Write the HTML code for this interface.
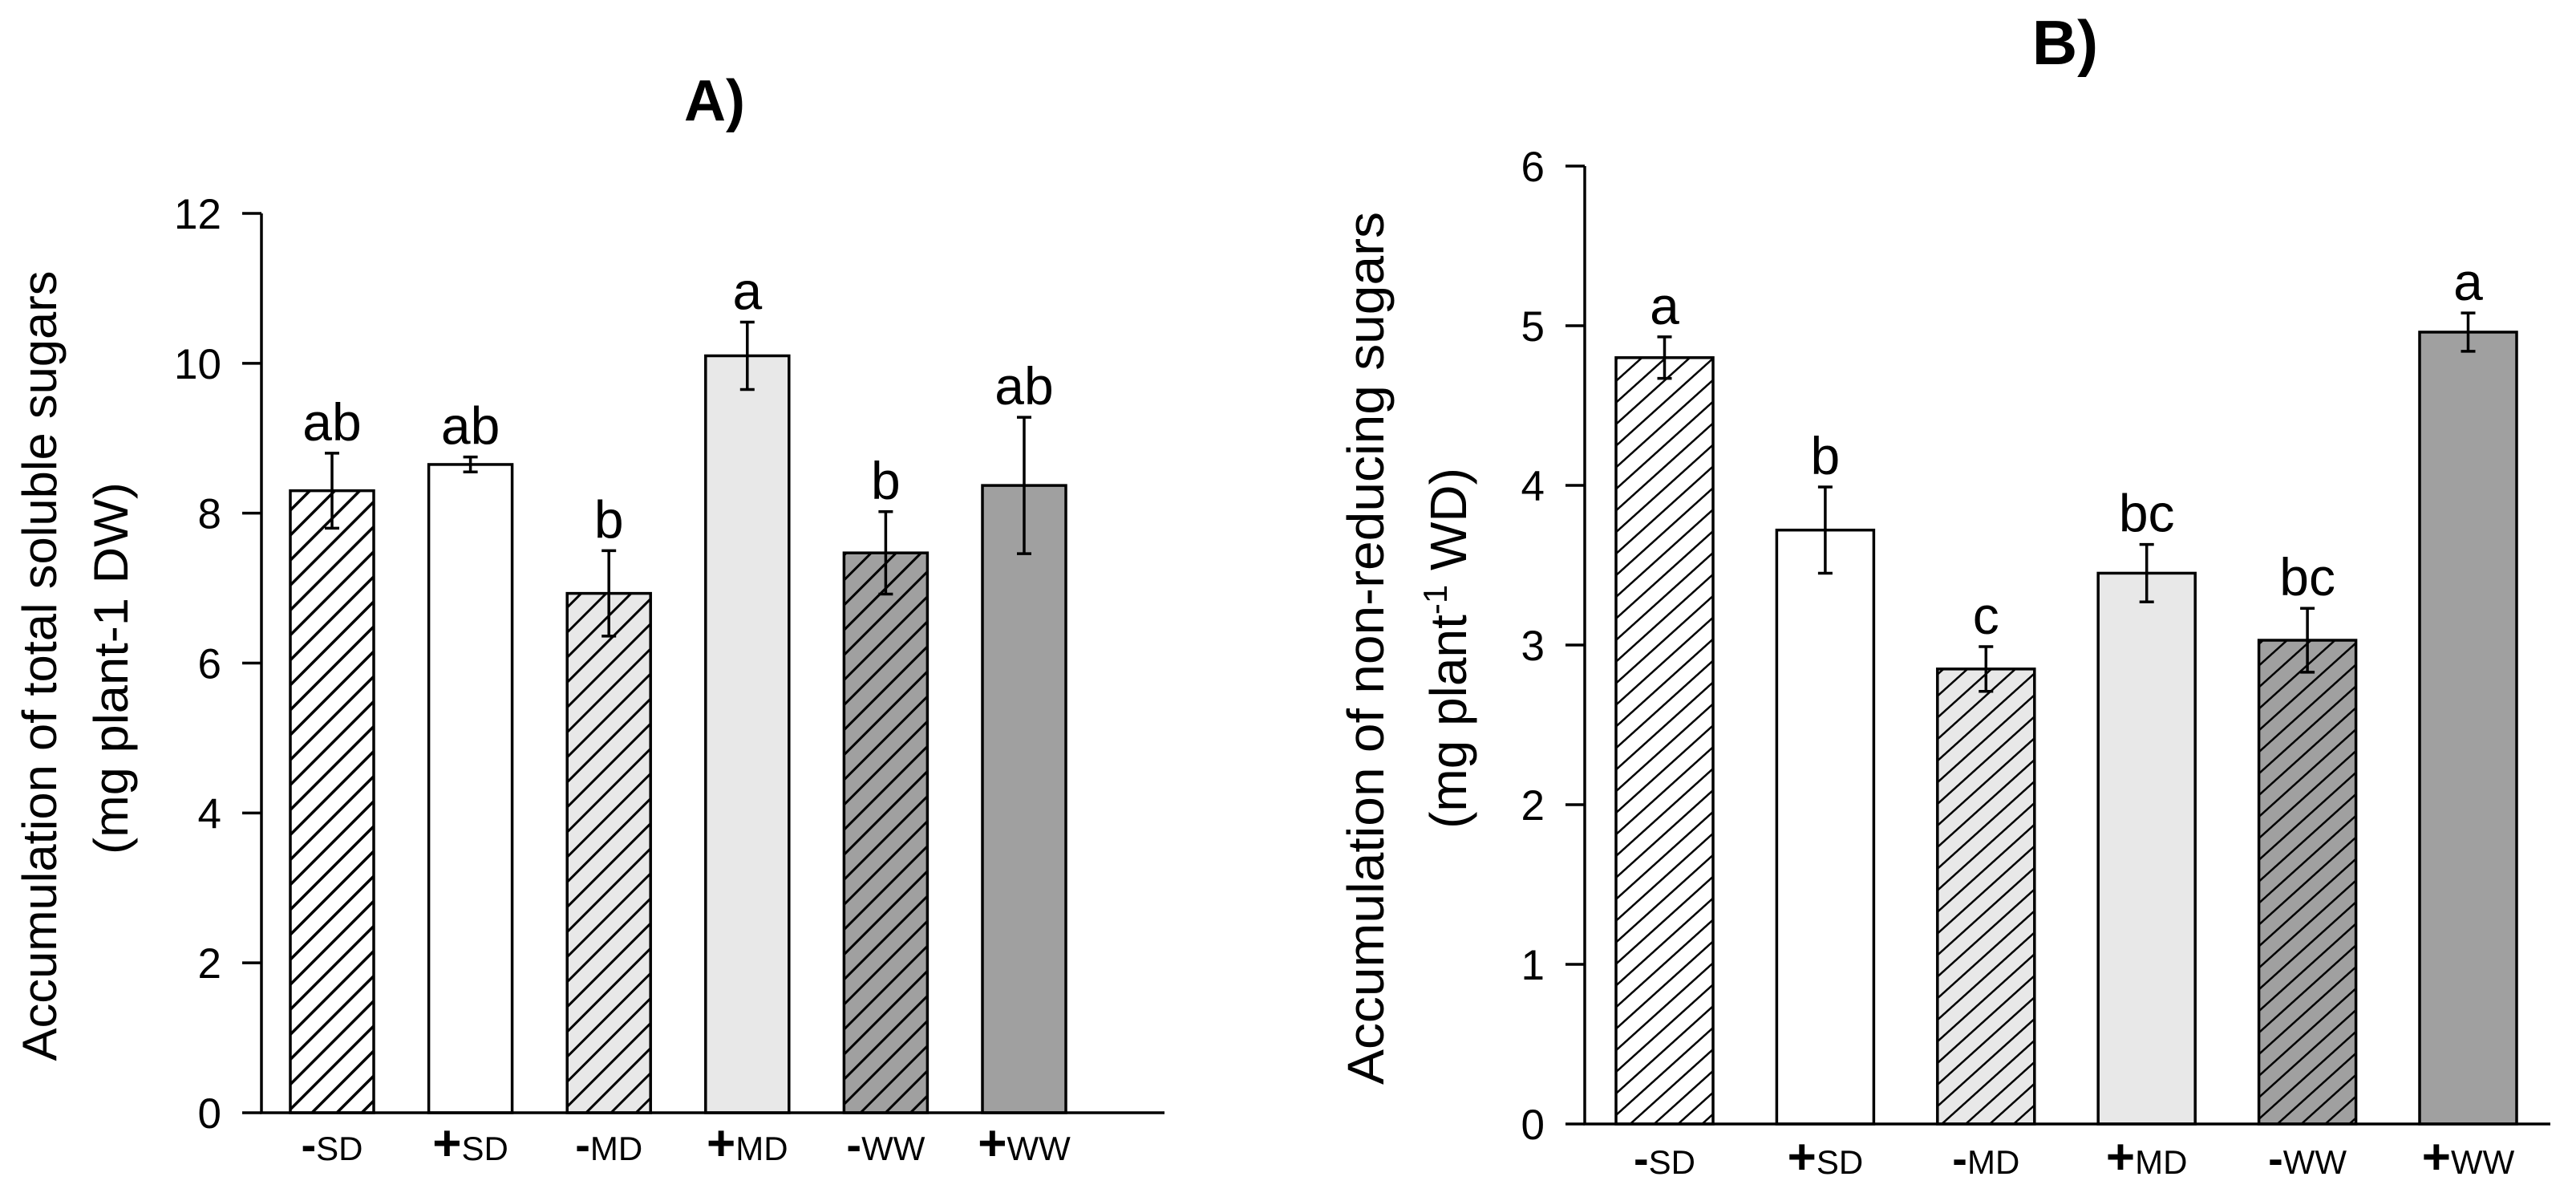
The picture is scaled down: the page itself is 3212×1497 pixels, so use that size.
<!DOCTYPE html>
<html><head><meta charset="utf-8">
<style>
html,body{margin:0;padding:0;background:#fff;}
svg{display:block;font-family:"Liberation Sans",Arial,sans-serif;}
</style></head>
<body>
<svg id="fig" width="3212" height="1497" viewBox="0 0 3212 1497" xmlns="http://www.w3.org/2000/svg">
<defs>
<pattern id="hatchW" patternUnits="userSpaceOnUse" width="22" height="22" patternTransform="rotate(45)">
<rect width="22" height="22" fill="#ffffff"/><line x1="0" y1="0" x2="0" y2="22" stroke="#000" stroke-width="7"/></pattern>
<pattern id="hatchL" patternUnits="userSpaceOnUse" width="22" height="22" patternTransform="rotate(45)">
<rect width="22" height="22" fill="#e8e8e8"/><line x1="0" y1="0" x2="0" y2="22" stroke="#000" stroke-width="6"/></pattern>
<pattern id="hatchD" patternUnits="userSpaceOnUse" width="22" height="22" patternTransform="rotate(45)">
<rect width="22" height="22" fill="#a0a0a0"/><line x1="0" y1="0" x2="0" y2="22" stroke="#000" stroke-width="6"/></pattern>
<pattern id="hatchWb" patternUnits="userSpaceOnUse" width="20" height="20" patternTransform="rotate(48)">
<rect width="20" height="20" fill="#ffffff"/><line x1="0" y1="0" x2="0" y2="20" stroke="#000" stroke-width="5"/></pattern>
<pattern id="hatchLb" patternUnits="userSpaceOnUse" width="20" height="20" patternTransform="rotate(48)">
<rect width="20" height="20" fill="#e8e8e8"/><line x1="0" y1="0" x2="0" y2="20" stroke="#000" stroke-width="5"/></pattern>
<pattern id="hatchDb" patternUnits="userSpaceOnUse" width="20" height="20" patternTransform="rotate(48)">
<rect width="20" height="20" fill="#a0a0a0"/><line x1="0" y1="0" x2="0" y2="20" stroke="#000" stroke-width="5"/></pattern>
</defs>
<g id="panelA"></g>
<g id="panelB"></g>
</svg>
<script>
const categories = ["SD","SD","MD","MD","WW","WW"];
const signs = ["-","+","-","+","-","+"];
const valuesA = [8.3, 8.65, 6.93, 10.1, 7.47, 8.37];
const errorsA = [0.5, 0.1, 0.57, 0.45, 0.55, 0.91];
const lettersA = ["ab","ab","b","a","b","ab"];
const ticksA = [0,2,4,6,8,10,12];
const valuesB = [4.8, 3.72, 2.85, 3.45, 3.03, 4.96];
const errorsB = [0.13, 0.27, 0.14, 0.18, 0.2, 0.12];
const lettersB = ["a","b","c","bc","bc","a"];
const ticksB = [0,1,2,3,4,5,6];

const NS = "http://www.w3.org/2000/svg";
function mk(tag, attrs, parent){const e=document.createElementNS(NS,tag);for(const k in attrs)e.setAttribute(k,attrs[k]);parent.appendChild(e);return e;}

function drawPanel(g, cfg){
  const yScale = v => cfg.y0 - (v - cfg.ymin)/(cfg.ymax - cfg.ymin)*(cfg.y0 - cfg.y1);
  const xLeft = i => cfg.x0 + cfg.firstOffset + i*cfg.step;
  // bars
  cfg.values.forEach((v,i)=>{
    const x = xLeft(i), y = yScale(v);
    const r = mk("rect",{x:x,y:y,width:cfg.bw,height:cfg.y0-y,fill:cfg.fills[i],stroke:"#000","stroke-width":3.5},g);
    
    
    const cx = x + cfg.bw/2;
    const top = yScale(v + cfg.errors[i]), bot = yScale(v - cfg.errors[i]);
    const eb = mk("path",{d:`M${cx} ${top}V${bot}M${cx-9} ${top}H${cx+9}M${cx-9} ${bot}H${cx+9}`,stroke:"#000","stroke-width":3.5,fill:"none"},g);
    
    
    const t = mk("text",{x:cx,y:top-16,"text-anchor":"middle","font-size":66},g);
    t.textContent = cfg.letters[i];
    
    
    const lab = mk("text",{x:cx,y:cfg.labelY,"text-anchor":"middle"},g);
    
    
    const s1 = mk("tspan",{"font-size":signs[i]=="+"?62:56,"font-weight":"bold"},lab); s1.textContent = signs[i];
    const s2 = mk("tspan",{"font-size":42},lab); s2.textContent = categories[i];
  });
  // axes
  const ax = mk("path",{d:`M${cfg.x0} ${cfg.y1}V${cfg.y0}H${cfg.xEnd}`,stroke:"#000","stroke-width":3.5,fill:"none"},g);
  
  
  cfg.ticks.forEach(tv=>{
    const y = yScale(tv);
    const tk = mk("line",{x1:cfg.x0-24,x2:cfg.x0,y1:y,y2:y,stroke:"#000","stroke-width":3.5},g);
    
    
    const tl = mk("text",{x:cfg.x0-50,y:y+19,"text-anchor":"end","font-size":53},g);
    tl.textContent = tv;
    
    
  });
}

const gA = document.getElementById("panelA");
drawPanel(gA,{x0:326,y0:1387,y1:266,ymin:0,ymax:12,xEnd:1452,firstOffset:36,step:172.6,bw:104,
  values:valuesA,errors:errorsA,letters:lettersA,ticks:ticksA,labelY:1446,
  fills:["url(#hatchW)","#ffffff","url(#hatchL)","#e8e8e8","url(#hatchD)","#a0a0a0"]});
const gB = document.getElementById("panelB");
drawPanel(gB,{x0:1976,y0:1401,y1:207,ymin:0,ymax:6,xEnd:3180,firstOffset:39,step:200.4,bw:121,
  values:valuesB,errors:errorsB,letters:lettersB,ticks:ticksB,labelY:1463,
  fills:["url(#hatchWb)","#ffffff","url(#hatchLb)","#e8e8e8","url(#hatchDb)","#a0a0a0"]});
</script>
<svg style="position:absolute;left:0;top:0" width="3212" height="1497" viewBox="0 0 3212 1497" xmlns="http://www.w3.org/2000/svg" font-family="Liberation Sans, Arial, sans-serif">
<text x="891" y="150" text-anchor="middle" font-size="72" font-weight="bold">A)</text>
<text x="2575" y="80" text-anchor="middle" font-size="78" font-weight="bold">B)</text>
<g>
<text transform="translate(70,830) rotate(-90)" text-anchor="middle" font-size="60" textLength="985" lengthAdjust="spacingAndGlyphs">Accumulation of total soluble sugars</text>
<text transform="translate(159,833) rotate(-90)" text-anchor="middle" font-size="60" textLength="464" lengthAdjust="spacingAndGlyphs">(mg plant-1 DW)</text>
</g>
<g>
<text transform="translate(1725,808) rotate(-90)" text-anchor="middle" font-size="64" textLength="1088" lengthAdjust="spacingAndGlyphs">Accumulation of non-reducing sugars</text>
<text transform="translate(1828,808) rotate(-90)" text-anchor="middle" font-size="64">(mg plant<tspan font-size="42" dy="-24">-1</tspan><tspan dy="24"> WD)</tspan></text>
</g>
</svg>
</body></html>
